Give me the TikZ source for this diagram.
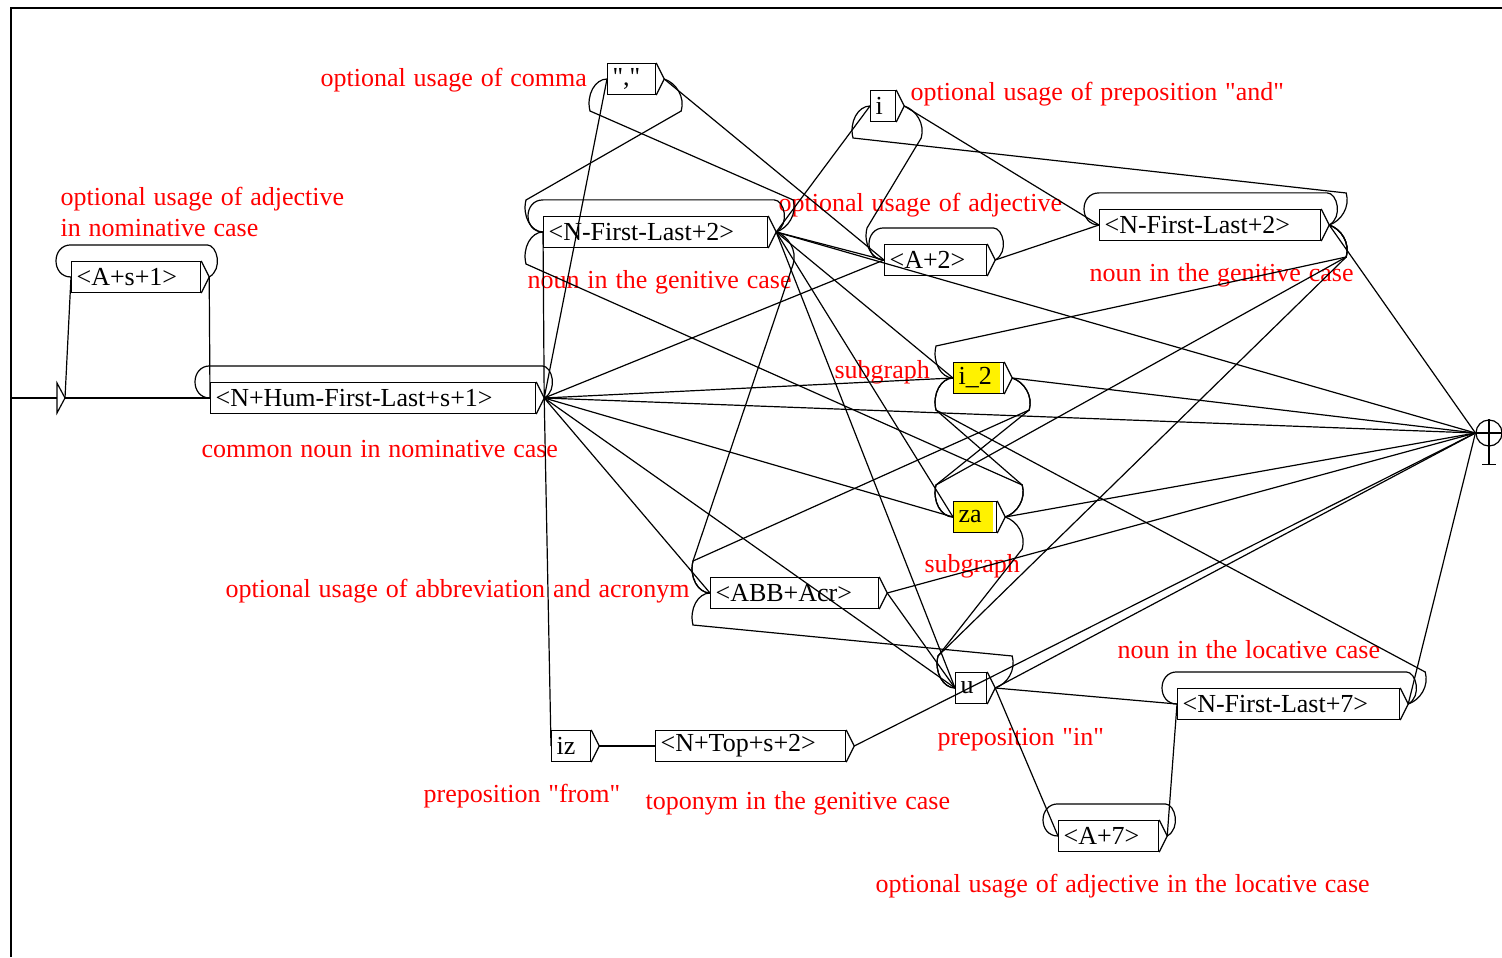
\documentclass[tikz,border=0pt]{standalone}
\usepackage{fontspec}
\setmainfont{Liberation Serif}[Ligatures=TeXOff]
\newfontfamily\lblfont{Liberation Serif}[Ligatures=TeXOff, WordSpace=1.1]
\usetikzlibrary{calc, positioning}

% loop over the top of a box, from its output back to its input
\newcommand{\selfloop}[1]{%
	\draw (#1-o) .. controls +(14,-8) and +(10,0) .. ($(#1.north east)+(6,-16)$)
	-- ($(#1.north west)+(0,-16)$) .. controls +(-20,0) and +(-20,0) .. (#1.west);}

% transition to a box that lies to the left: #3=1 goes down, #3=-1 goes up
\newcommand{\backedge}[3]{%
	\draw (#1-o) .. controls +(12,#3*4) and +(4,-#3*14) .. ($(#1-o)+(17,#3*32)$)
	-- ($(#2.west)+(-17,-#3*32)$) .. controls +(-4,#3*16) and +(-12,0) .. (#2.west);}

\begin{document}
\begin{tikzpicture}[
		x=0.5pt, y=-0.5pt,
		line width=0.6pt,
		box/.style={draw, anchor=west, minimum height=15.5pt, inner xsep=2.5pt, inner ysep=0pt,
			align=left, font=\fontsize{13}{15}\selectfont},
		subbox/.style={box, path picture={\fill[yellow] (path picture bounding box.south west)
				rectangle ([xshift=-2pt]path picture bounding box.north east);}},
		lbl/.style={text=red, anchor=west, inner sep=0pt, align=left,
			font=\lblfont\fontsize{13}{15.5}\selectfont}
		]
		\useasboundingbox (0,0) rectangle (1502,957);
		
		% === FRAME ===
		\draw[line width=1pt] (11,957) -- (11,8) -- (1502,8);
		
		% === INITIAL AND FINAL STATES ===
		\coordinate (start) at (11,398);
		\coordinate (init) at (57,398);
		\coordinate (init-o) at (65,398);
		\draw (start) -- (init);
		\draw[line width=1.2pt] (start) -- ++(17,0);
		\draw (init) -- ++(0,-15) -- (init-o) -- ($(init)+(0,15)$) -- cycle;
		
		\node[draw, circle, minimum size=13pt, inner sep=0pt] (fin) at (1489,433) {};
		\draw (fin.west) -- (fin.east);
		\draw (fin.north) -- ++(0,45) coordinate (finfoot);
		\draw ($(finfoot)+(-7,0)$) -- ($(finfoot)+(7,0)$);
		
		% === BOXES ===
		\node[box, text width=59.5pt] (adjnom) at (71,277) {<A+s+1>};
		\node[box, text width=157.5pt] (hum) at (210,398) {<N+Hum-First-Last+s+1>};
		\node[box, text width=19pt] (comma) at (607,79) {","};
		\node[box, text width=107pt] (gen) at (543,232) {<N-First-Last+2>};
		\node[box, text width=7.5pt] (i) at (870,106) {i};
		\node[box, text width=46pt] (adjgen) at (884,260) {<A+2>};
		\node[box, text width=105.5pt] (gentwo) at (1099,225) {<N-First-Last+2>};
		\node[subbox, text width=20pt] (itwo) at (953,378) {i\_2};
		\node[subbox, text width=16.5pt] (za) at (953,517) {za};
		\node[box, text width=79pt] (abb) at (710,593) {<ABB+Acr>};
		\node[box, text width=10.5pt] (u) at (955,688) {u};
		\node[box, text width=106pt] (loc) at (1177,704) {<N-First-Last+7>};
		\node[box, text width=45pt] (adjloc) at (1058,836) {<A+7>};
		\node[box, text width=14.5pt] (iz) at (551,746) {iz};
		\node[box, text width=90pt] (topo) at (655,746) {<N+Top+s+2>};
		
		% output tips
		\foreach \b in {adjnom,hum,comma,gen,i,adjgen,gentwo,itwo,za,abb,u,loc,adjloc,iz,topo} {
			\draw (\b.north east) -- ([xshift=4pt]\b.east) -- (\b.south east);
			\coordinate (\b-o) at ([xshift=4pt]\b.east);
		}
		
		% === COMMENTS ===
		\node[lbl] (commalbl) at (320,80) {optional usage of comma};
		\node[lbl] (ilbl) at (910,94) {optional usage of preposition "and"};
		\node[lbl] (adjnomlbl) at (60,212) {optional usage of adjective\\in nominative case};
		\node[lbl] (adjgenlbl) at (778,205) {optional usage of adjective};
		\node[lbl] (genlbl) at (527,282) {noun in the genitive case};
		\node[lbl] (gentwolbl) at (1089,275) {noun in the genitive case};
		\node[lbl] (itwolbl) at (834,372) {subgraph};
		\node[lbl] (humlbl) at (201,449) {common noun in nominative case};
		\node[lbl] (zalbl) at (924,566) {subgraph};
		\node[lbl] (abblbl) at (225,591) {optional usage of abbreviation and acronym};
		\node[lbl] (loclbl) at (1117,650) {noun in the locative case};
		\node[lbl] (ulbl) at (937,740) {preposition "in"};
		\node[lbl] (izlbl) at (423,796) {preposition "from"};
		\node[lbl] (topolbl) at (645,803) {toponym in the genitive case};
		\node[lbl] (adjloclbl) at (875,886) {optional usage of adjective in the locative case};
		
		% === TRANSITIONS ===
		\draw (init-o) -- (adjnom.west);
		\draw (init-o) -- (hum.west);
		
		\foreach \s/\t in {adjnom/hum, hum/gen, hum/comma, hum/adjgen, hum/itwo, hum/za, hum/abb,
			hum/u, hum/iz, gen/i, gen/adjgen, gen/itwo, gen/za, gen/u, comma/adjgen, i/gentwo,
			adjgen/gentwo, abb/u, u/loc, u/adjloc, adjloc/loc, iz/topo} {
			\draw (\s-o) -- (\t.west);
		}
		
		\foreach \s in {hum, gen, gentwo, itwo, za, abb, u, loc, topo} {
			\draw (\s-o) -- (fin.west);
		}
		
		% backward transitions
		\backedge{comma}{gen}{1}
		\backedge{gen}{comma}{-1}
		\backedge{gen}{abb}{1}
		\backedge{i}{adjgen}{1}
		\backedge{gentwo}{i}{-1}
		\backedge{gentwo}{itwo}{1}
		\backedge{gentwo}{za}{1}
		\backedge{gentwo}{u}{1}
		\backedge{itwo}{za}{1}
		\backedge{itwo}{abb}{1}
		\backedge{za}{u}{1}
		\backedge{za}{gen}{-1}
		\backedge{za}{itwo}{-1}
		\backedge{u}{abb}{-1}
		\backedge{loc}{itwo}{-1}
		
		% self loops
		\foreach \b in {adjnom, hum, gen, adjgen, gentwo, loc, adjloc} {
			\selfloop{\b}
		}
		
	\end{tikzpicture}
\end{document}
